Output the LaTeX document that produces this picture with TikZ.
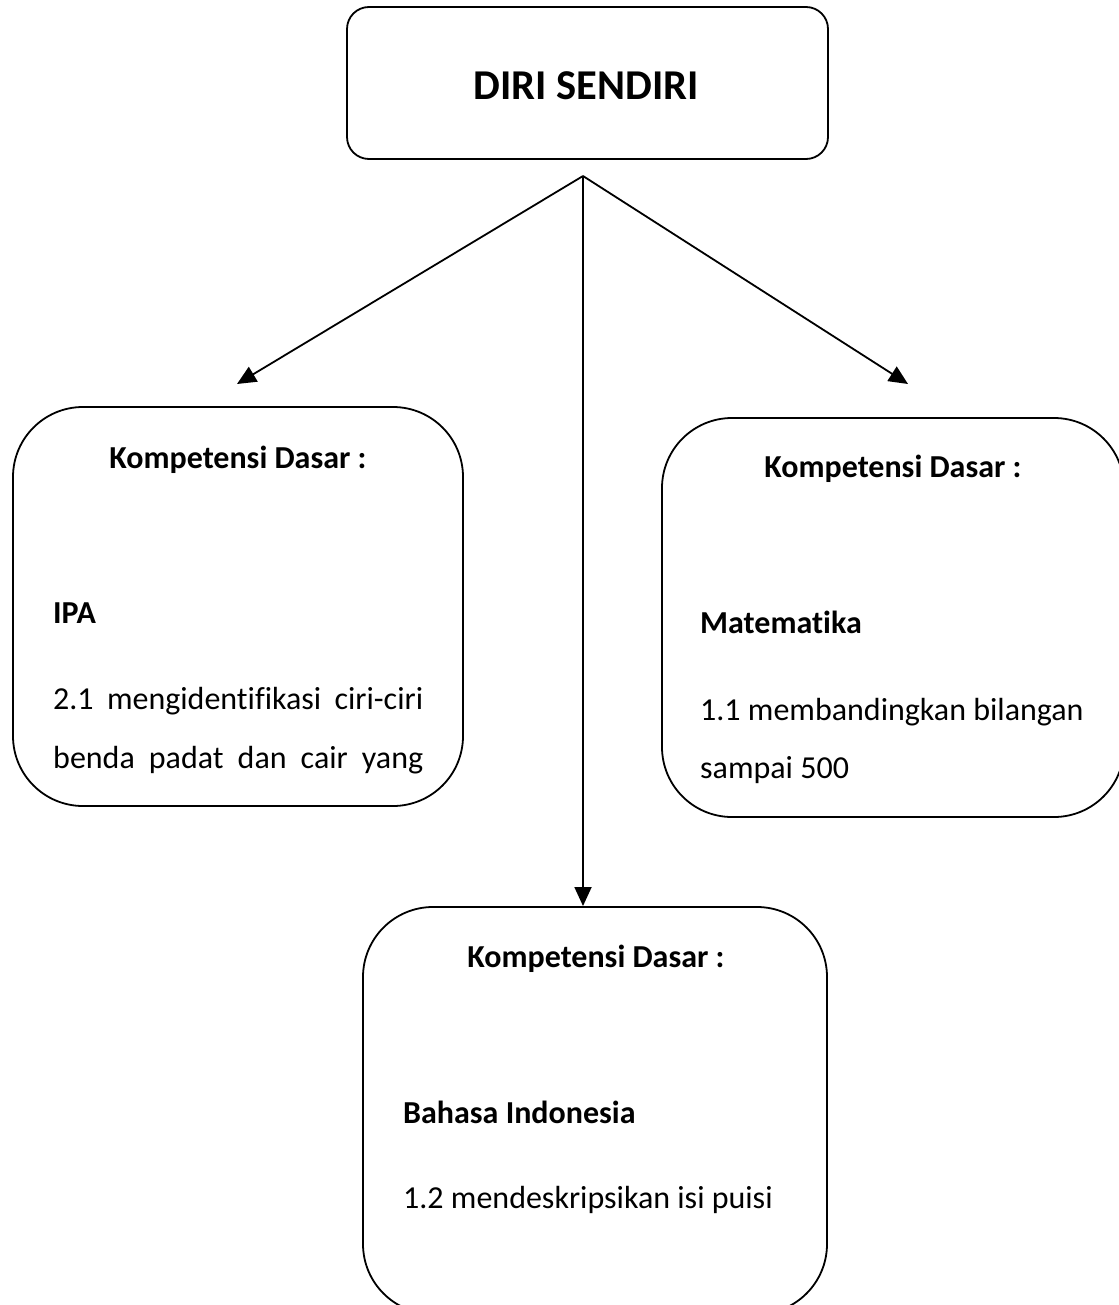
\documentclass[tikz,border=0pt]{standalone}
\usepackage{fontspec}
\setmainfont[Ligatures=NoCommon]{Carlito}
\usetikzlibrary{arrows.meta}

\tikzset{
  box/.style={draw, line width=1.8pt, rectangle, inner sep=0pt, rounded corners=70pt},
  txt/.style={inner sep=0pt, font=\fontsize{32}{38}\selectfont},
  head/.style={txt, anchor=base, font=\fontsize{32}{38}\selectfont\bfseries},
  arr/.style={line width=1.8pt, -{Triangle[length=19pt,width=17pt]}}
}

\begin{document}
\begin{tikzpicture}[x=1pt,y=-1pt]
    \useasboundingbox (0,0) rectangle (1118,1305);
    \node[box, rounded corners=22pt, minimum width=481pt, minimum height=152pt] (diri) at (587.5,83) {};
    \node[box, minimum width=450pt, minimum height=399pt] (ipa) at (238,606.5) {};
    \node[box, minimum width=462pt, minimum height=399pt] (mat) at (893,617.5) {};
    \node[box, minimum width=464pt, minimum height=407pt] (bind) at (595,1110.5) {};

    \node[txt, anchor=base, font=\fontsize{42.5}{50}\selectfont\bfseries] (judul) at (586,100) {DIRI SENDIRI};

    \node[head] (kd1) at (238,468) {Kompetensi Dasar :};
    \node[txt, anchor=base west, font=\fontsize{32}{38}\selectfont\bfseries] (ipa0) at (53,623) {IPA};
    \node[txt, anchor=base west] (ipa1) at (53,709) {\makebox[370pt][s]{2.1 mengidentifikasi ciri-ciri}};
    \node[txt, anchor=base west] (ipa2) at (53,768) {\makebox[370pt][s]{benda padat dan cair yang}};

    \node[head] (kd2) at (893,477) {Kompetensi Dasar :};
    \node[txt, anchor=base west, font=\fontsize{32}{38}\selectfont\bfseries] (mat0) at (700,633) {Matematika};
    \node[txt, anchor=base west] (mat1) at (700,720) {1.1 membandingkan bilangan};
    \node[txt, anchor=base west] (mat2) at (700,778) {sampai 500};

    \node[head] (kd3) at (596,967) {Kompetensi Dasar :};
    \node[txt, anchor=base west, font=\fontsize{32}{38}\selectfont\bfseries] (bind0) at (403,1123) {Bahasa Indonesia};
    \node[txt, anchor=base west] (bind1) at (403,1208) {1.2 mendeskripsikan isi puisi};

    \coordinate (h) at (583,176);
    \coordinate (t1) at (237,384);
    \coordinate (t2) at (908,384);
    \coordinate (t3) at (583,906);
    \draw[arr] (h) -- (t1);
    \draw[arr] (h) -- (t2);
    \draw[arr] (h) -- (t3);
\end{tikzpicture}
\end{document}
